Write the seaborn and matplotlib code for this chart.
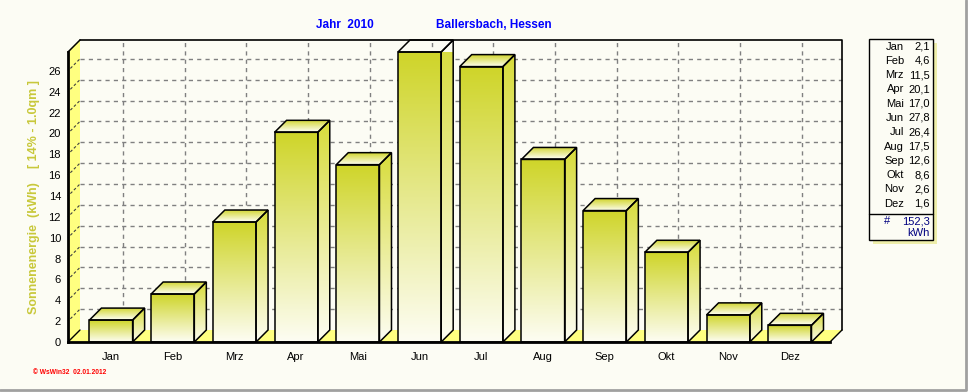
import numpy as np
import pandas as pd
import matplotlib
matplotlib.use('Agg')
import matplotlib.pyplot as plt
import seaborn as sns
from matplotlib.patches import Polygon, Rectangle
from matplotlib.colors import to_rgb

# Monatswerte 2010 (kWh)
months = ['Jan', 'Feb', 'Mrz', 'Apr', 'Mai', 'Jun', 'Jul', 'Aug', 'Sep', 'Okt', 'Nov', 'Dez']
energy = [2.1, 4.6, 11.5, 20.1, 17.0, 27.8, 26.4, 17.5, 12.6, 8.6, 2.6, 1.6]
total_label = '152,3'
yticks = list(range(0, 27, 2))

W, H = 968, 392
bg = '#fcfcf4'
wall = '#ffff80'
depth_px = 12

sns.set_style('white')
plt.rcParams['font.family'] = ['Liberation Sans', 'DejaVu Sans']


def fpos(x, y):
    # pixel -> figure fraction
    return x / W, 1 - y / H


def gradient(c_top, c_bottom, n=64):
    a = np.array(to_rgb(c_top))
    b = np.array(to_rgb(c_bottom))
    t = np.linspace(0, 1, n)[:, None]
    return (a * (1 - t) + b * t)[:, None, :]


fig = plt.figure(figsize=(W / 100, H / 100), dpi=100, facecolor=bg)
ax = fig.add_axes([68 / W, 1 - 342 / H, (830 - 68) / W, (342 - 52) / H])
ax.set_facecolor('none')

df = pd.DataFrame({'Monat': months, 'kWh': energy})
sns.barplot(data=df, x='Monat', y='kWh', width=0.7, color='white', edgecolor='black',
            linewidth=1.1, errorbar=None, ax=ax)
bars = list(ax.patches)

xl, xr = -0.697, 11.65
top = max(energy)
ax.set_xlim(xl, xr)
ax.set_ylim(0, top)

# Tiefe der 3D-Darstellung in Datenkoordinaten
p = ax.transData.transform([(0, 0), (1, 1)])
dx = depth_px / (p[1, 0] - p[0, 0])
dy = depth_px / (p[1, 1] - p[0, 1])

# Rueckwand: Gitter
for v in yticks[1:]:
    ax.plot([xl + dx, xr + dx], [v + dy, v + dy], ls=(0, (3, 3)), color='#808080',
            lw=1, clip_on=False, zorder=1)
for i in range(len(months)):
    ax.plot([i + dx, i + dx], [dy, top + dy], ls=(0, (3, 3)), color='#808080',
            lw=1, clip_on=False, zorder=1)
ax.plot([xl + dx, xr + dx, xr + dx], [top + dy, top + dy, dy], color='black', lw=1.2,
        clip_on=False, zorder=1.2)

# linke Wand
ax.add_patch(Polygon([(xl, 0), (xl + dx, dy), (xl + dx, top + dy), (xl, top)],
                     closed=True, fc=wall, ec='none', clip_on=False, zorder=1.5))
ax.plot([xl, xl + dx], [top, top + dy], color='black', lw=1.1, clip_on=False, zorder=1.6)
for v in yticks[1:]:
    ax.plot([xl, xl + dx], [v, v + dy], color='#404040', lw=0.8,
            ls=(1.5, (2.5, 2)), clip_on=False, zorder=1.6)

# Boden
ax.add_patch(Polygon([(xl, 0), (xr, 0), (xr + dx, dy), (xl + dx, dy)],
                     closed=True, fc=wall, ec='none', clip_on=False, zorder=1.5))
ax.plot([xl, xl + dx], [0, dy], color='black', lw=1, clip_on=False, zorder=1.6)
ax.plot([xr, xr + dx], [0, dy], color='black', lw=1, clip_on=False, zorder=1.6)

front_grad = gradient('#cfd52a', '#fdfdf2')
side_grad = gradient('#d8dc3c', '#fdfdf2')
top_grad = gradient('#d4d83a', '#fdfdf0', 16)

for b in bars:
    x0 = b.get_x()
    x1 = x0 + b.get_width()
    h = b.get_height()
    z = 4

    ax.imshow(front_grad, extent=[x0, x1, 0, h], aspect='auto', interpolation='bilinear',
              zorder=z)
    b.set_facecolor('none')
    b.set_zorder(z + 1)
    b.set_clip_on(False)

    side = Polygon([(x1, 0), (x1 + dx, dy), (x1 + dx, h + dy), (x1, h)], closed=True,
                   fc='none', ec='black', lw=1.1, clip_on=False, zorder=z + 1)
    ax.add_patch(side)
    im = ax.imshow(side_grad, extent=[x1, x1 + dx, 0, h + dy], aspect='auto',
                   interpolation='bilinear', zorder=z)
    im.set_clip_path(side)
    im.set_clip_box(None)

    lid = Polygon([(x0, h), (x1, h), (x1 + dx, h + dy), (x0 + dx, h + dy)], closed=True,
                  fc='none', ec='black', lw=1.1, clip_on=False, zorder=z + 1)
    ax.add_patch(lid)
    im = ax.imshow(top_grad, extent=[x0, x1 + dx, h, h + dy], aspect='auto',
                   interpolation='bilinear', zorder=z)
    im.set_clip_path(lid)
    im.set_clip_box(None)

ax.set_xlim(xl, xr)
ax.set_ylim(0, top)

# Achsen
for s in ['top', 'right']:
    ax.spines[s].set_visible(False)
for s in ['left', 'bottom']:
    ax.spines[s].set_linewidth(2)
    ax.spines[s].set_color('black')
    ax.spines[s].set_zorder(6)
ax.set_yticks(yticks)
ax.set_xticks(range(len(months)))
ax.set_xticklabels(months)
ax.set_xticks(np.arange(-0.5, len(months), 1), minor=True)
ax.tick_params(axis='both', which='both', direction='out', length=3, width=1,
               labelsize=8, colors='black')
ax.tick_params(axis='x', pad=4)
ax.tick_params(axis='y', pad=2)
ax.set_xlabel('')
ax.set_ylabel('Sonnenenergie  (kWh)    [ 14% - 1.0qm ]', color='#c8c83a',
              fontweight='bold', fontsize=9)
ax.yaxis.set_label_coords(-0.037, 0.5)

# Titel
fig.text(*fpos(345, 25), 'Jahr  2010', ha='center', va='center', color='#0000ff',
         fontweight='bold', fontsize=8.5)
fig.text(*fpos(494, 25), 'Ballersbach, Hessen', ha='center', va='center', color='#0000ff',
         fontweight='bold', fontsize=8.5)
fig.text(*fpos(33, 372), '\u00a9 WsWin32  02.01.2012', ha='left', va='center',
         color='#ff0000', fontweight='bold', fontsize=4.8)

# Legende rechts
bx0, by0, bx1, by1 = 869, 39, 933, 240
sh = Rectangle(fpos(bx0 + 4, by1 + 4), (bx1 - bx0) / W, (by1 - by0) / H,
               transform=fig.transFigure, fc='#eeeeaa', ec='none', zorder=1)
fig.add_artist(sh)
box = Rectangle(fpos(bx0, by1), (bx1 - bx0) / W, (by1 - by0) / H,
                transform=fig.transFigure, fc=bg, ec='black', lw=1, zorder=2)
fig.add_artist(box)
for i, (m, v) in enumerate(zip(months, energy)):
    yy = 46.5 + 14.3 * i
    fig.text(*fpos(904, yy), m, ha='right', va='center', fontsize=8, color='black', zorder=3)
    fig.text(*fpos(930, yy), f'{v:.1f}'.replace('.', ','), ha='right', va='center',
             fontsize=8, color='black', zorder=3)
fig.add_artist(plt.Line2D([bx0 / W, bx1 / W], [1 - 214 / H] * 2, transform=fig.transFigure,
                          color='black', lw=1, zorder=3))
fig.text(*fpos(884, 221), '#', ha='left', va='center', fontsize=8, color='#000080', zorder=3)
fig.text(*fpos(930, 221), total_label, ha='right', va='center', fontsize=8,
         color='#000080', zorder=3)
fig.text(*fpos(930, 233), 'kWh', ha='right', va='center', fontsize=8,
         color='#000080', zorder=3)

# Fensterrahmen
fig.add_artist(plt.Line2D([0, 966 / W, 966 / W], [1 - 390 / H, 1 - 390 / H, 1],
                          transform=fig.transFigure, color='#a0a0a0', lw=2))

fig.savefig('out.png', dpi=100, facecolor=bg)
